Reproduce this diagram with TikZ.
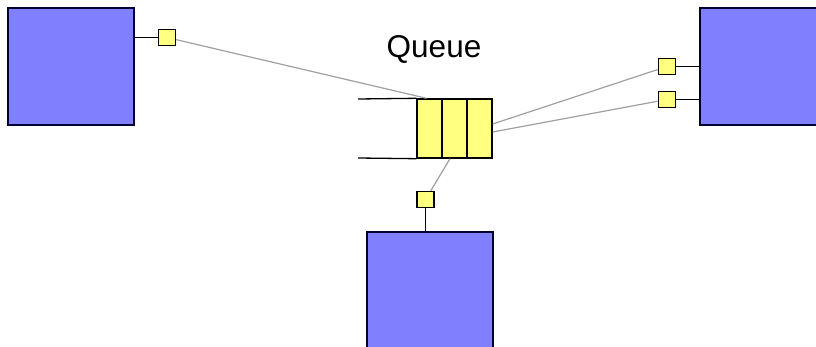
\documentclass[tikz,border=0pt]{standalone}
\usepackage{fontspec}
\setmainfont{Liberation Sans}
\usetikzlibrary{calc}
\definecolor{procblue}{HTML}{8080FF}
\definecolor{portyellow}{HTML}{FFFF80}
\definecolor{wiregray}{HTML}{A0A0A0}
\definecolor{edgenavy}{HTML}{000033}
\tikzset{
	proc/.style={draw=edgenavy, fill=procblue, line width=1.5pt, minimum width=126pt, minimum height=117pt, inner sep=0pt},
	port/.style={draw=black, fill=portyellow, line width=1.4pt, minimum width=17pt, minimum height=16pt, inner sep=0pt},
	cell/.style={draw=black, fill=portyellow, line width=1.4pt, minimum width=25pt, minimum height=59pt, inner sep=0pt},
	wire/.style={wiregray, line width=1.2pt},
	link/.style={black, line width=1.3pt}
}

\begin{document}
\begin{tikzpicture}[x=1pt, y=-1pt]
		%%%%% START %%%%%
		
		\useasboundingbox (0, 0) rectangle (816, 347);
		\clip (0, 0) rectangle (816, 347);
		
		\node[proc] (procleft) at (71, 66.5) {};
		\node[proc] (procright) at (763, 66.5) {};
		\node[proc] (procbottom) at (430, 290.5) {};
		
		\node[cell] (cella) at (429.5, 128.5) {};
		\node[cell] (cellb) at (454.5, 128.5) {};
		\node[cell] (cellc) at (479.5, 128.5) {};
		\coordinate (mouthtop) at (358, 99);
		\coordinate (mouthbot) at (358, 158);
		\draw[link] (mouthtop) -- (cella.north west);
		\draw[link] (mouthbot) -- (cella.south west);
		
		\node[anchor=base, font=\fontsize{31.5}{36}\selectfont] (qlabel) at (434, 58) {Queue};
		
		\node[port] (portleft) at (167, 37.5) {};
		\node[port] (portra) at (667, 66.5) {};
		\node[port] (portrb) at (667, 99.5) {};
		\node[port] (portbot) at (425.5, 199.5) {};
		
		\draw[link] (portleft) -- (portleft -| procleft.east);
		\draw[link] (portra) -- (portra -| procright.west);
		\draw[link] (portrb) -- (portrb -| procright.west);
		\draw[link] (portbot) -- (portbot |- procbottom.north);
		
		\draw[wire] (portleft) -- ([xshift=-3pt]cella.north);
		\draw[wire] (portra) -- ([yshift=4.5pt]cellc.east);
		\draw[wire] (portrb) -- ([yshift=-3.5pt]cellc.east);
		\draw[wire] (portbot) -- ([xshift=-4.5pt]cellb.south);
		
		%%%%% END %%%%%
	\end{tikzpicture}
\end{document}
